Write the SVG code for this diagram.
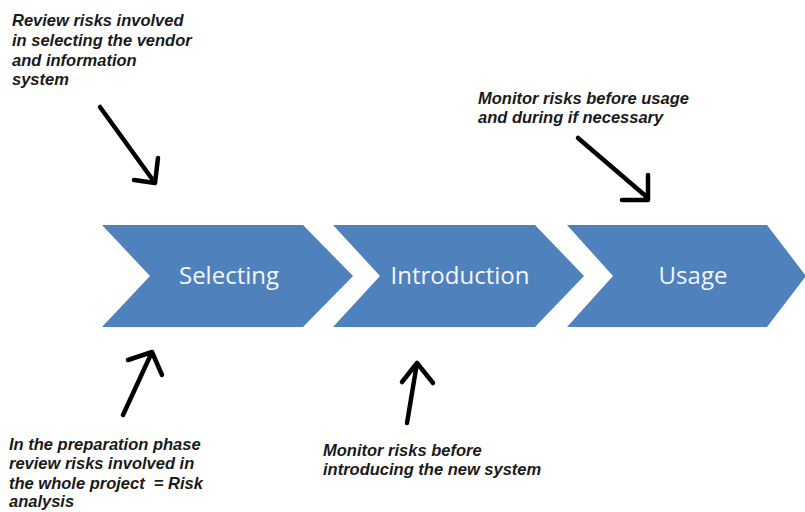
<svg xmlns="http://www.w3.org/2000/svg" width="805" height="512" viewBox="0 0 805 512">
<style>
.chev{fill:#4F81BD}
.lbl{font-family:"Open Sans","Liberation Sans",sans-serif;font-size:24px;fill:#f4f6fa;text-anchor:middle}
.note{font-family:"Liberation Sans",Arial,sans-serif;font-size:16.5px;font-weight:bold;font-style:italic;fill:#1a1a1a}
.arr{fill:none;stroke:#000;stroke-width:4.5;stroke-linecap:round;stroke-linejoin:round}
</style>
<rect width="805" height="512" fill="#ffffff"/>
<g id="selecting">
<polygon class="chev" points="102,225 303,225 353,276 303,327 102,327 150,276"/>
<text class="lbl" x="229" y="284">Selecting</text>
</g>
<g id="introduction">
<polygon class="chev" points="333,225 535,225 584,276 535,327 333,327 380,276"/>
<text class="lbl" x="460" y="284">Introduction</text>
</g>
<g id="usage">
<polygon class="chev" points="567,225 767,225 806,276 767,327 567,327 613,276"/>
<text class="lbl" x="693" y="284">Usage</text>
</g>
<g id="note-vendor">
<text class="note" x="12" y="26">Review risks involved</text>
<text class="note" x="12" y="46">in selecting the vendor</text>
<text class="note" x="12" y="66">and information</text>
<text class="note" x="12" y="85">system</text>
</g>
<g id="note-usage">
<text class="note" x="478" y="104">Monitor risks before usage</text>
<text class="note" x="478" y="123">and during if necessary</text>
</g>
<g id="note-preparation">
<text class="note" x="9" y="450">In the preparation phase</text>
<text class="note" x="9" y="469">review risks involved in</text>
<text class="note" x="9" y="489">the whole project&#160; = Risk</text>
<text class="note" x="9" y="507">analysis</text>
</g>
<g id="note-introduction">
<text class="note" x="323" y="456">Monitor risks before</text>
<text class="note" x="323" y="475">introducing the new system</text>
</g>
<g id="connectors">
<path class="arr" d="M100,107 L155,183 M134,180 L155,183 L158,158"/>
<path class="arr" d="M578,138 L648,198 M622,200 L648,200 L648,175"/>
<path class="arr" d="M123,415 L152,352 M128,360 L152,352 L162,375"/>
<path class="arr" d="M407,423 L417,363 M402,382 L417,363 L433,383"/>
</g>
</svg>
